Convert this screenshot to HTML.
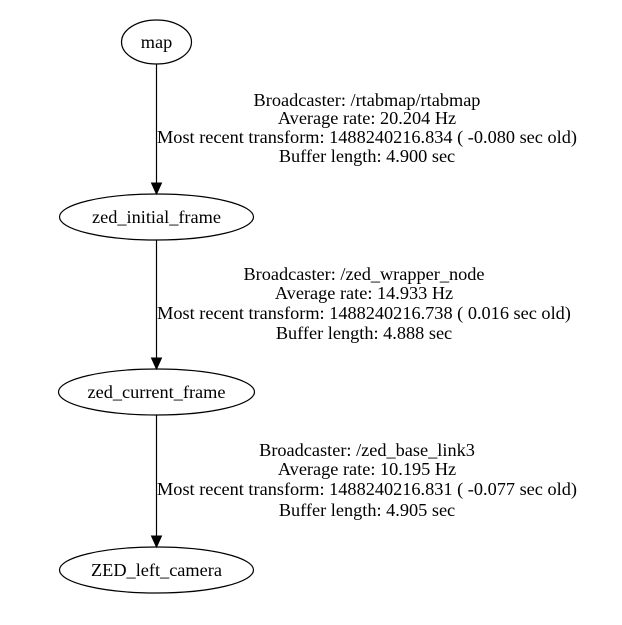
<!DOCTYPE html>
<html><head><style>html,body{margin:0;padding:0;background:#fff;}</style></head>
<body>
<svg width="622" height="620" xmlns="http://www.w3.org/2000/svg" font-family="Liberation Serif, serif" font-size="18.3">
<rect width="622" height="620" fill="#fff"/>
<g fill="none" stroke="#000" stroke-width="1.2">
<ellipse cx="156.5" cy="42" rx="35" ry="22"/>
<ellipse cx="156.5" cy="217" rx="97" ry="23"/>
<ellipse cx="156.5" cy="392" rx="98" ry="23"/>
<ellipse cx="156.5" cy="570" rx="97" ry="23"/>
<line x1="156.5" y1="64" x2="156.5" y2="184"/>
<line x1="156.5" y1="240" x2="156.5" y2="359"/>
<line x1="156.5" y1="415" x2="156.5" y2="537"/>
</g>
<g fill="#000" stroke="#000">
<polygon points="151.5,183 161.5,183 156.5,194"/>
<polygon points="151.5,358 161.5,358 156.5,369"/>
<polygon points="151.5,536 161.5,536 156.5,547"/>
</g>
<g text-anchor="middle" fill="#000">
<text x="156.5" y="48">map</text>
<text x="156.5" y="223">zed_initial_frame</text>
<text x="156.5" y="398">zed_current_frame</text>
<text x="156.5" y="576">ZED_left_camera</text>
<text x="367" y="106">Broadcaster: /rtabmap/rtabmap</text>
<text x="367" y="124">Average rate: 20.204 Hz</text>
<text x="367" y="143">Most recent transform: 1488240216.834 ( -0.080 sec old)</text>
<text x="367" y="162">Buffer length: 4.900 sec</text>
<text x="364" y="280">Broadcaster: /zed_wrapper_node</text>
<text x="364" y="299">Average rate: 14.933 Hz</text>
<text x="364" y="319">Most recent transform: 1488240216.738 ( 0.016 sec old)</text>
<text x="364" y="339">Buffer length: 4.888 sec</text>
<text x="367" y="456">Broadcaster: /zed_base_link3</text>
<text x="367" y="475">Average rate: 10.195 Hz</text>
<text x="367" y="495">Most recent transform: 1488240216.831 ( -0.077 sec old)</text>
<text x="367" y="516">Buffer length: 4.905 sec</text>
</g>
</svg>
</body></html>
